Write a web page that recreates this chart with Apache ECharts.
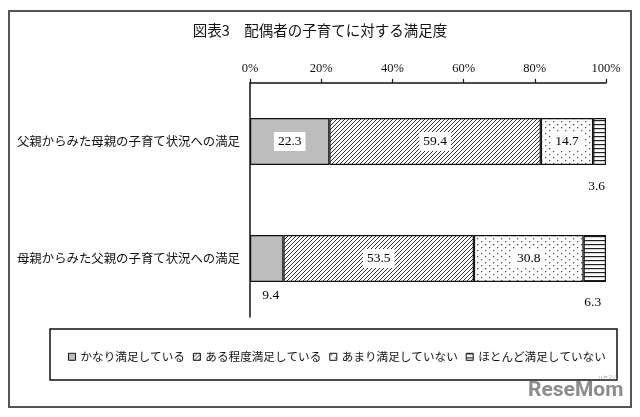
<!DOCTYPE html>
<html>
<head>
<meta charset="utf-8">
<script src="https://cdn.jsdelivr.net/npm/echarts@6/dist/echarts.min.js"></script>
<style>
html,body{margin:0;padding:0;background:#fff;}
#chart{width:640px;height:417px;}
</style>
</head>
<body>
<div id="chart"></div>
<script>
// ---- data ----
var titleText = '図表3　配偶者の子育てに対する満足度';
var categories = ['父親からみた母親の子育て状況への満足', '母親からみた父親の子育て状況への満足'];
var seriesNames = ['かなり満足している', 'ある程度満足している', 'あまり満足していない', 'ほとんど満足していない'];
var veryValues = [22.3, 9.4];
var somewhatValues = [59.4, 53.5];
var notMuchValues = [14.7, 30.8];
var hardlyValues = [3.6, 6.3];
var xTicks = [0, 20, 40, 60, 80, 100];

// ---- patterns ----
function makeCanvas(w, h, draw) {
  var c = document.createElement('canvas');
  c.width = w; c.height = h;
  var ctx = c.getContext('2d');
  ctx.fillStyle = '#fff';
  ctx.fillRect(0, 0, w, h);
  draw(ctx);
  return c;
}
var hatch = makeCanvas(4, 4, function (ctx) {
  ctx.strokeStyle = '#333';
  ctx.lineWidth = 1;
  ctx.beginPath();
  ctx.moveTo(-1, 5); ctx.lineTo(5, -1);
  ctx.moveTo(-1, 1); ctx.lineTo(1, -1);
  ctx.moveTo(3, 5); ctx.lineTo(5, 3);
  ctx.stroke();
});
var dots = makeCanvas(8, 6, function (ctx) {
  ctx.fillStyle = '#555';
  ctx.fillRect(1, 1, 1.3, 1.3);
  ctx.fillRect(5, 4, 1.3, 1.3);
});
var hlines = makeCanvas(2, 4, function (ctx) {
  ctx.fillStyle = '#222';
  ctx.fillRect(0, 0, 2, 1.2);
});

var colors = [
  '#bdbdbd',
  { image: hatch, repeat: 'repeat' },
  { image: dots, repeat: 'repeat' },
  { image: hlines, repeat: 'repeat' }
];

var numFont = 'Liberation Serif';
var jpFont = 'Noto Sans CJK JP';

var insideLabel = {
  show: true,
  position: 'inside',
  formatter: function (p) { return p.value.toFixed(1); },
  fontFamily: numFont,
  fontSize: 13.5,
  color: '#000',
  backgroundColor: '#fff',
  padding: [3, 4, 2, 4]
};

function outsideItem(v, dist, dx) {
  return {
    value: v,
    label: {
      show: true,
      position: 'bottom',
      distance: dist,
      offset: [dx, 0],
      backgroundColor: 'transparent',
      padding: 0
    }
  };
}

var allValues = [veryValues, somewhatValues, notMuchValues, hardlyValues];
var series = seriesNames.map(function (name, i) {
  var data = allValues[i].map(function (v) { return v; });
  if (i === 0) data[1] = outsideItem(veryValues[1], 6, 4);
  if (i === 3) {
    data[0] = outsideItem(hardlyValues[0], 14, -3);
    data[1] = outsideItem(hardlyValues[1], 13, -2);
  }
  return {
    name: name,
    type: 'bar',
    stack: 'total',
    barWidth: 47,
    data: data,
    itemStyle: { color: colors[i], borderColor: '#111', borderWidth: 1.2 },
    label: insideLabel,
    emphasis: { disabled: true }
  };
});

var chart = echarts.init(document.getElementById('chart'), null, { renderer: 'canvas' });
chart.setOption({
  animation: false,
  backgroundColor: '#fff',
  title: {
    text: titleText,
    left: 'center',
    top: 18,
    textStyle: { fontFamily: jpFont, fontSize: 14.5, fontWeight: 'normal', color: '#111' }
  },
  grid: { left: 250, right: 34, top: 83, height: 234, containLabel: false },
  xAxis: {
    type: 'value',
    position: 'top',
    min: 0, max: 100, interval: 20,
    axisLine: { show: true, lineStyle: { color: '#111', width: 1.5 } },
    axisTick: { show: true, length: 4, lineStyle: { color: '#111', width: 1.2 } },
    splitLine: { show: false },
    axisLabel: {
      formatter: function (v) { return xTicks.indexOf(v) >= 0 ? v + '%' : ''; },
      fontFamily: numFont, fontSize: 12.5, color: '#111', margin: 8
    }
  },
  yAxis: {
    type: 'category',
    inverse: true,
    data: categories,
    axisLine: { show: true, lineStyle: { color: '#111', width: 1.5 } },
    axisTick: { show: false },
    axisLabel: { fontFamily: jpFont, fontSize: 12.4, color: '#111', margin: 10 }
  },
  legend: {
    data: seriesNames,
    left: 63,
    top: 346,
    width: 580,
    itemWidth: 7,
    itemHeight: 7,
    itemGap: 8,
    icon: 'rect',
    itemStyle: { borderColor: '#111', borderWidth: 1 },
    textStyle: { fontFamily: jpFont, fontSize: 11.6, color: '#111' }
  },
  graphic: [
    { type: 'rect', shape: { x: 9, y: 11, width: 622, height: 396 }, style: { fill: 'none', stroke: '#555', lineWidth: 2 }, silent: true },
    { type: 'rect', shape: { x: 50, y: 329, width: 567, height: 51 }, style: { fill: 'none', stroke: '#111', lineWidth: 1.5 }, silent: true },
    { type: 'text', left: 528, top: 380, style: { text: 'ReseMom', fill: '#8c8c8c', fontFamily: 'Roboto', fontWeight: 'bold', fontSize: 21 }, silent: true },
    { type: 'text', left: 598, top: 375, style: { text: 'リセマム', fill: '#999', fontFamily: jpFont, fontSize: 5 }, silent: true }
  ],
  series: series
});
</script>
</body>
</html>
